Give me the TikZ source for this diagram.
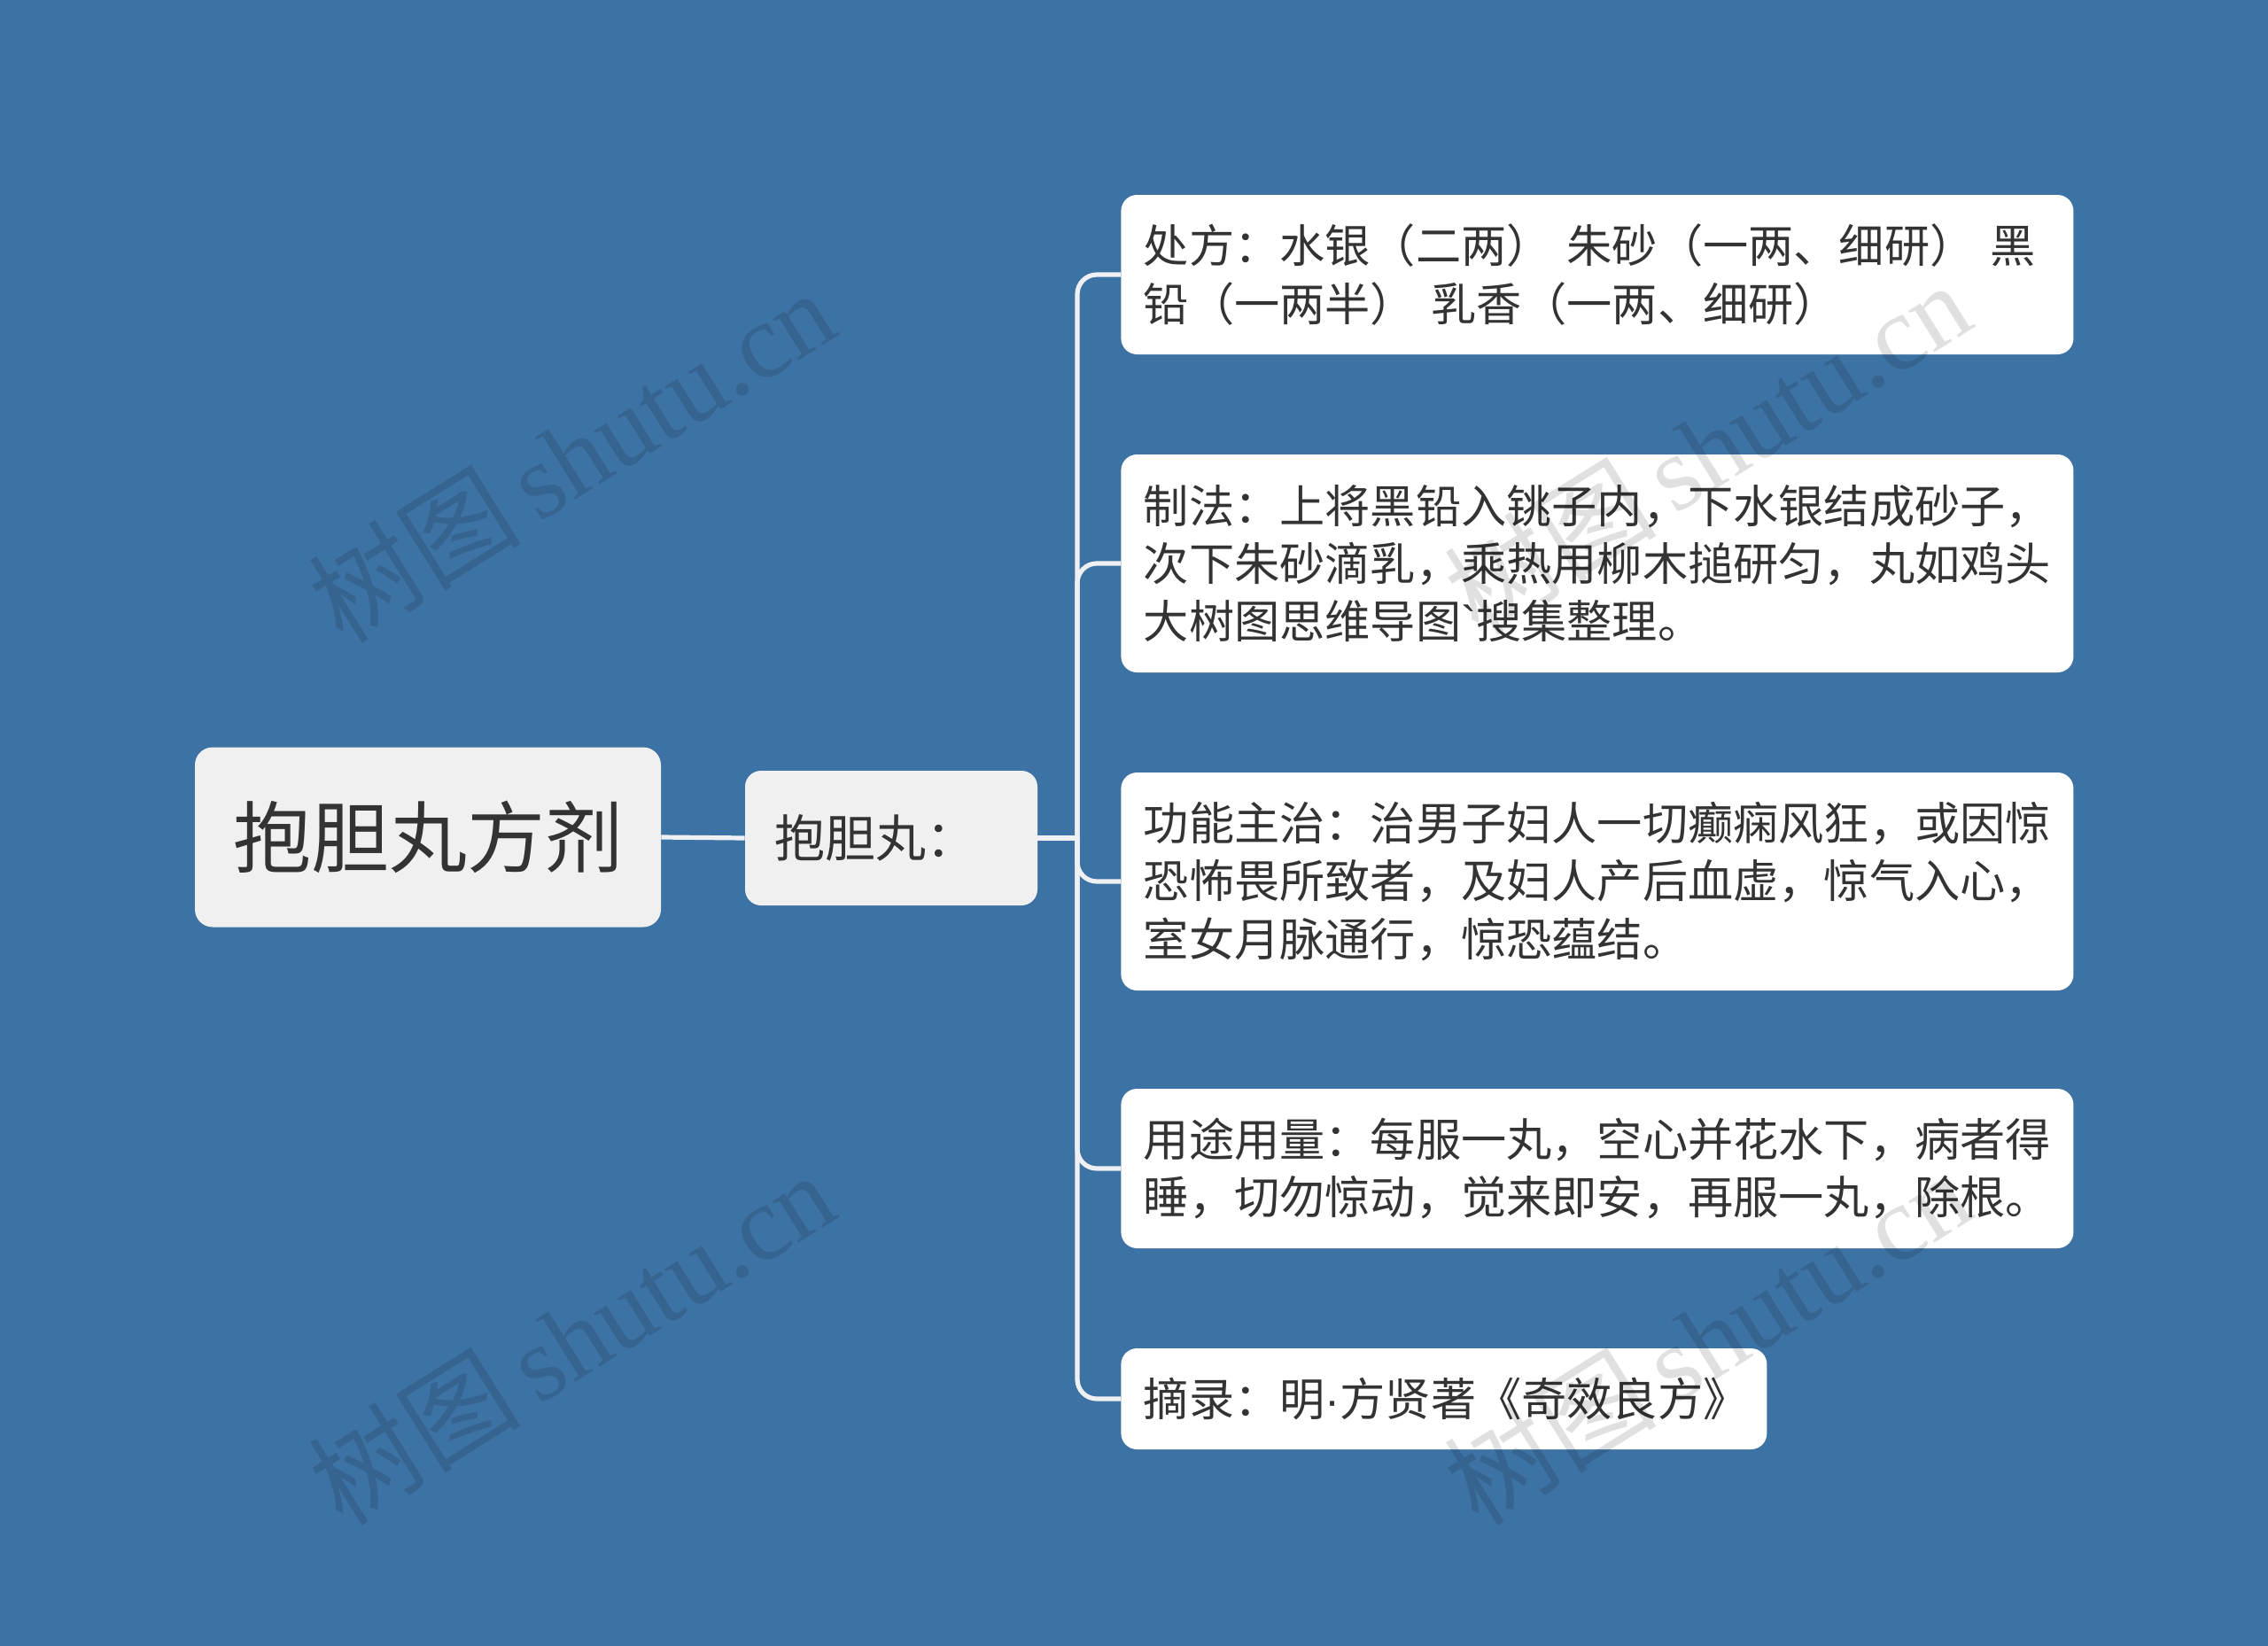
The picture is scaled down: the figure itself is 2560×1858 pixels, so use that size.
\documentclass[tikz,border=0pt]{standalone}
\usepackage{fontspec}
\setmainfont{Noto Sans CJK SC}
\newfontfamily\wmlatin{Liberation Serif}
\newfontfamily\latinsans{Liberation Sans}
\newfontfamily\wmcjk{Noto Sans CJK SC}
\definecolor{bgblue}{HTML}{3D72A4}
\definecolor{txt}{HTML}{333333}
\definecolor{rootfill}{HTML}{F0F0F0}
\definecolor{linec}{HTML}{EEF0F3}
\tikzset{
  rootbox/.style={fill=rootfill, rounded corners=10pt, text=txt, inner sep=0pt,
    minimum width=263pt, minimum height=101.5pt, font=\fontsize{44pt}{52pt}\selectfont},
  midbox/.style={fill=rootfill, rounded corners=9pt, text=txt, inner xsep=16.5pt, inner ysep=0pt,
    text width=132pt, align=left, minimum height=76pt, font=\fontsize{28.5pt}{34pt}\selectfont},
  leafbox/.style={fill=white, rounded corners=9pt, text=txt, inner xsep=12.75pt, inner ysep=0pt,
    text width=512pt, align=left, anchor=west, minimum height=#1,
    font=\fontsize{25.6pt}{32.65pt}\selectfont},
  conn/.style={draw=linec, line width=2.6pt},
  wm/.style={text=black, opacity=0.12, rotate=32, inner sep=0pt}
}
\begin{document}
\begin{tikzpicture}[x=0.5pt,y=-0.5pt]
\fill[bgblue] (0,0) rectangle (2560,1858);
\useasboundingbox (0,0) rectangle (2560,1858);

\node[rootbox] (root) at (483,945) {抱胆丸方剂};
\node[midbox] (mid) at (1006,946) {抱胆丸：};

\node[leafbox=90pt] (l1) at (1265,310) {处方：水银（二两） 朱砂（一两、细研） 黑\\铅（一两半） 乳香（一两、细研）};
\node[leafbox=123pt] (l2) at (1265,636) {制法：上将黑铅入铫子内，下水银结成砂子，\\次下朱砂滴乳，乘热用柳木搥研匀，丸如鸡头\\大树图思维导图{\latinsans\char`\`}搜集整理。};
\node[leafbox=123pt] (l3) at (1265,995) {功能主治：治男子妇人一切癫痫风狂，或因惊\\恐怖畏所致者，及妇人产后血虚，惊气入心，\\室女月脉通行，惊恐蕴结。};
\node[leafbox=90pt] (l4) at (1265,1319) {用途用量：每服一丸，空心并花水下，病者得\\睡，切勿惊动，觉来即安，再服一丸，除根。};
\node[leafbox=57pt, text width=339pt] (l5) at (1265,1579) {摘录：明{\latinsans ·}方贤著《奇效良方》};

\coordinate (bus) at (1216,946);
\draw[conn] (root.east) -- (mid.west);
\draw[conn] (mid.east) -- (bus);
\foreach \n in {l1,l2,l3,l4,l5}
  \draw[conn, rounded corners=11pt] (bus) |- (\n.west);

\foreach \p in {(645,514),(645,1510),(1927,505),(1927,1510)}
  \node[wm] at \p {\fontsize{60pt}{60pt}\selectfont\wmcjk 树图\,\wmlatin shutu.cn};
\end{tikzpicture}
\end{document}
